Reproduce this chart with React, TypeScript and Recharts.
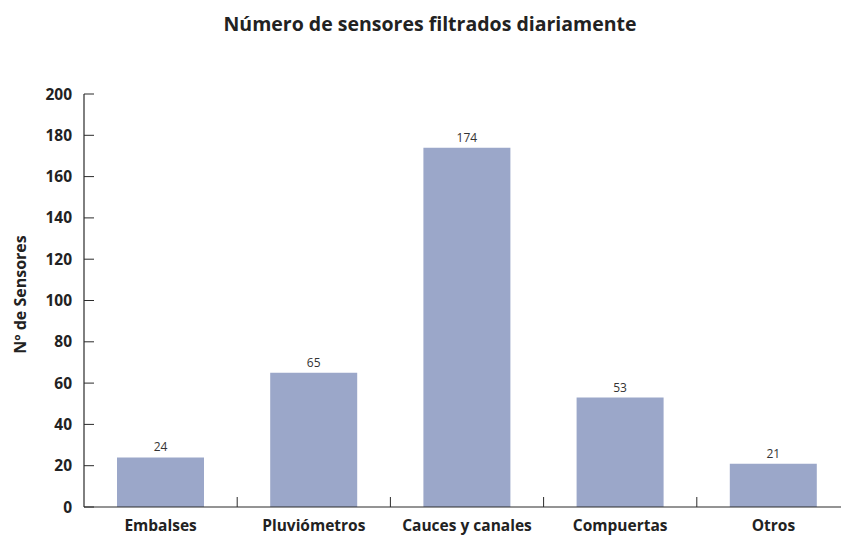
import React from "react";
import { BarChart, Bar, XAxis, YAxis, LabelList } from "recharts";

const categories = ["Embalses", "Pluviómetros", "Cauces y canales", "Compuertas", "Otros"];
const sensorCounts = [24, 65, 174, 53, 21];
const yTicks = [0, 20, 40, 60, 80, 100, 120, 140, 160, 180, 200];
const title = "Número de sensores filtrados diariamente";
const yLabel = "Nº de Sensores";

const data = categories.map((name, i) => ({ name, value: sensorCounts[i] }));

const FONT = "'Open Sans', sans-serif";
const AXIS = "#2b2b2b";

const YTick = (props: any) => {
  const { x, y, payload } = props;
  return (
    <g>
      <line x1={x} x2={x + 10} y1={y} y2={y} stroke={AXIS} strokeWidth={1} />
      <text x={x - 12} y={y} dy={5.5} textAnchor="end" fontFamily={FONT} fontWeight={700} fontSize={15.5} fill="#222">
        {payload.value}
      </text>
    </g>
  );
};

const XTick = (props: any) => {
  const { x, y, payload, index, visibleTicksCount } = props;
  const half = payload && typeof payload.offset === "number" ? payload.offset : 0;
  const showBoundary = half > 0 && index < visibleTicksCount - 1;
  return (
    <g>
      {showBoundary && (
        <line x1={x + half} x2={x + half} y1={y} y2={y - 10} stroke={AXIS} strokeWidth={1} />
      )}
      <text x={x} y={y} dy={23.5} textAnchor="middle" fontFamily={FONT} fontWeight={700} fontSize={15.5} fill="#222">
        {payload.value}
      </text>
    </g>
  );
};

const YLabel = (props: any) => {
  const vb = props.viewBox || { x: 0, y: 94, width: 84, height: 413 };
  const cx = vb.x + 20;
  const cy = vb.y + vb.height / 2 - 6;
  return (
    <text
      x={cx}
      y={cy}
      dy={6}
      transform={`rotate(-90, ${cx}, ${cy})`}
      textAnchor="middle"
      fontFamily={FONT}
      fontWeight={700}
      fontSize={16}
      fill="#222"
    >
      {yLabel}
    </text>
  );
};

export default function App() {
  return (
    <div style={{ position: "absolute", left: 0, top: 0, width: 841, height: 535, overflow: "hidden", background: "#fff" }}>
      <div
        style={{
          position: "absolute",
          left: 430,
          top: 12,
          transform: "translateX(-50%)",
          whiteSpace: "nowrap",
          fontFamily: FONT,
          fontWeight: 700,
          fontSize: 19.5,
          color: "#222",
          lineHeight: "24px",
        }}
      >
        {title}
      </div>
      <BarChart
        width={850}
        height={535}
        data={data}
        margin={{ top: 94, right: 0, left: 0, bottom: 0 }}
        barCategoryGap={33}
      >
        <XAxis
          dataKey="name"
          axisLine={{ stroke: AXIS, strokeWidth: 1.2 }}
          tickLine={false}
          tickSize={0}
          tickMargin={0}
          tick={<XTick />}
          height={28}
          interval={0}
        />
        <YAxis
          domain={[0, 200]}
          ticks={yTicks}
          width={84}
          axisLine={{ stroke: AXIS, strokeWidth: 1.2 }}
          tickLine={false}
          tickSize={0}
          tickMargin={0}
          tick={<YTick />}
          interval={0}
          label={<YLabel />}
        />
        <Bar dataKey="value" fill="#9ba7c9" isAnimationActive={false}>
          <LabelList dataKey="value" position="top" offset={6} fontFamily={FONT} fontSize={12} fill="#333" />
        </Bar>
      </BarChart>
    </div>
  );
}
